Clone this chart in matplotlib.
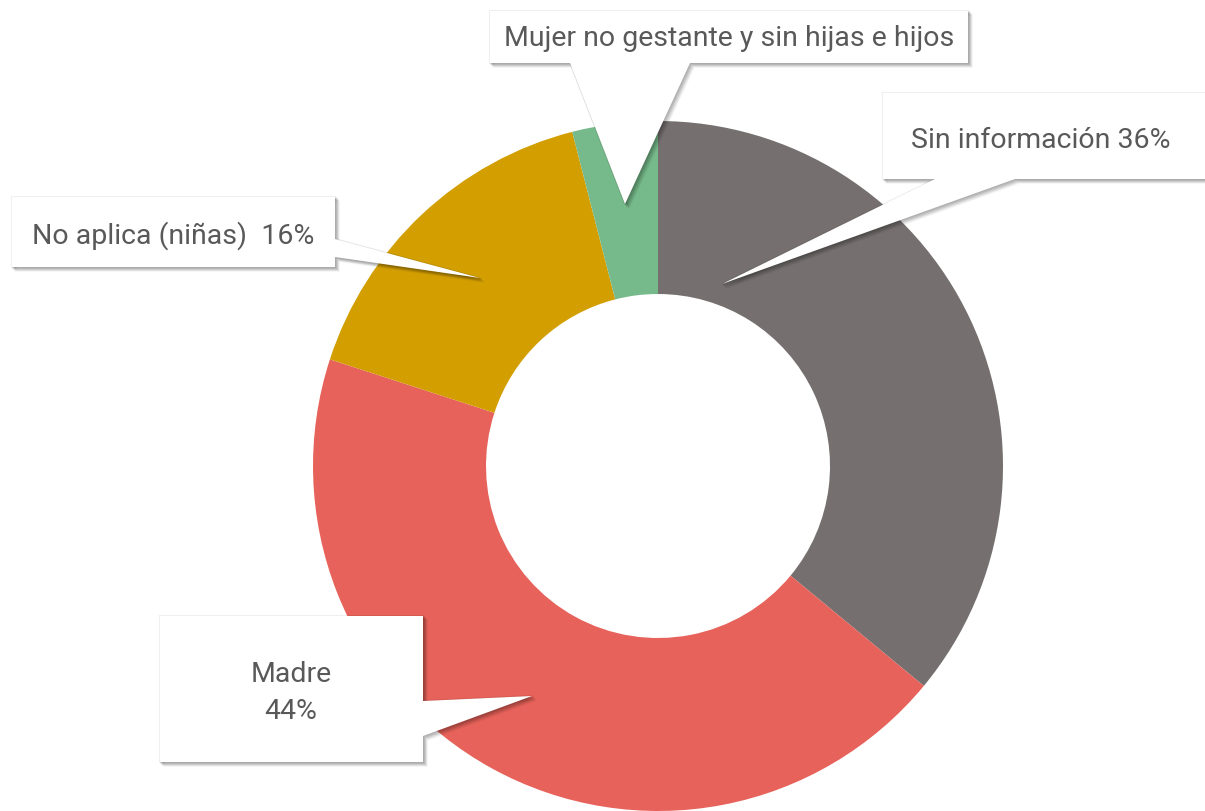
import matplotlib
matplotlib.use("Agg")
import matplotlib.pyplot as plt
from matplotlib.patches import Polygon

# data (clockwise from the top)
categories = ["Sin información", "Madre", "No aplica (niñas)", "Mujer no gestante y sin hijas e hijos"]
shares = [36, 44, 16, 4]
colors = ["#75706F", "#E6625A", "#D29E00", "#76B98A"]
callout_texts = ["Sin información 36%", "Madre\n44%", "No aplica (niñas)  16%",
                 "Mujer no gestante y sin hijas e hijos"]

W, H = 1205, 812
TEXT_COLOR = "#595959"
FONT = "Roboto"


def flip(pts, dx=0, dy=0):
    # pixel coords (y down) -> data coords (y up)
    return [(x + dx, H - (y + dy)) for x, y in pts]


# callout outlines in pixel coords: box with the pointer merged in
callout_shapes = [
    [(883, 94), (1212, 94), (1212, 180), (1015, 180), (722, 285), (935, 180), (883, 180)],
    [(160, 617), (423, 617), (423, 702), (532, 697), (423, 737), (423, 763), (160, 763)],
    [(12, 198), (335, 198), (335, 240), (480, 279), (335, 258), (335, 268), (12, 268)],
    [(490, 12), (968, 12), (968, 64), (690, 64), (625, 205), (570, 64), (490, 64)],
]
text_pos = [(1041, 141), (291, 693), (173, 236), (729, 39)]

fig = plt.figure(figsize=(W / 100, H / 100), dpi=100)
ax = fig.add_axes([0, 0, 1, 1])

ax.pie(shares, colors=colors, startangle=90, counterclock=False,
       center=(658, H - 467), radius=345, frame=True,
       wedgeprops=dict(width=173, edgecolor="none"))
ax.set_xlim(0, W)
ax.set_ylim(0, H)
ax.set_aspect("equal")
ax.axis("off")

# soft drop shadow: a few offset copies with low alpha
shadow_steps = [(0, 0, 0.06), (1, 1, 0.08), (2, 2, 0.07), (3, 3, 0.05), (4, 4, 0.03)]

for shape, txt, (tx, ty) in zip(callout_shapes, callout_texts, text_pos):
    for dx, dy, a in shadow_steps:
        ax.add_patch(Polygon(flip(shape, dx, dy), closed=True, facecolor="#000000",
                             edgecolor="#000000", linewidth=1.5, alpha=a,
                             zorder=4, clip_on=False))
    ax.add_patch(Polygon(flip(shape), closed=True, facecolor="#FFFFFF",
                         edgecolor="none", zorder=5, clip_on=False))
    ax.text(tx, H - ty, txt, ha="center", va="center", fontsize=20.5, color=TEXT_COLOR,
            family=FONT, linespacing=1.45, zorder=6)

fig.savefig("out.png", dpi=100)
